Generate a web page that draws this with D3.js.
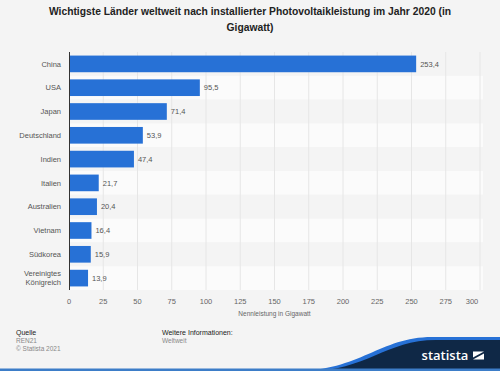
<!DOCTYPE html>
<html><head><meta charset="utf-8">
<script src="https://cdn.jsdelivr.net/npm/d3@7"></script>
<style>body{margin:0;background:#f4f4f4}svg{display:block;font-family:"Liberation Sans",Arial,sans-serif}</style>
</head><body>
<svg id="c" width="500" height="371"></svg>
<script>
const categories = ["China","USA","Japan","Deutschland","Indien","Italien","Australien","Vietnam","Südkorea","Vereinigtes Königreich"];
const values = [253.4,95.5,71.4,53.9,47.4,21.7,20.4,16.4,15.9,13.9];
const valueLabels = ["253,4","95,5","71,4","53,9","47,4","21,7","20,4","16,4","15,9","13,9"];
const xTicks = [0,25,50,75,100,125,150,175,200,225,250,275,300];
const titleLines = ["Wichtigste Länder weltweit nach installierter Photovoltaikleistung im Jahr 2020 (in","Gigawatt)"];
const axisTitle = "Nennleistung in Gigawatt";

const svg = d3.select("#c");
svg.append("rect").attr("width",500).attr("height",371).attr("fill","#f4f4f4");

svg.selectAll("text.title").data(titleLines).join("text")
  .attr("x",250).attr("y",(d,i)=>15+i*16).attr("text-anchor","middle")
  .attr("font-size","10.3px").attr("font-weight","bold").attr("fill","#222").text(d=>d);

const x = d3.scaleLinear().domain([0,300]).range([69,480]);
const y = d3.scaleBand().domain(categories).range([52,290]).paddingInner(0.3).paddingOuter(0.15);
const rowY = d3.scaleBand().domain(categories).range([52,290]);

svg.selectAll("rect.row").data(categories).join("rect")
  .attr("x",69).attr("y",d=>rowY(d)).attr("width",414).attr("height",rowY.bandwidth())
  .attr("fill",(d,i)=>i%2?"#fbfbfb":"#f4f4f4");

svg.selectAll("line.grid").data(xTicks.slice(1)).join("line")
  .attr("x1",d=>x(d)).attr("x2",d=>x(d)).attr("y1",52).attr("y2",290)
  .attr("stroke","#e6e6e6").attr("stroke-width",1);

svg.selectAll("rect.bar").data(values).join("rect")
  .attr("x",x(0)).attr("y",(d,i)=>y(categories[i]))
  .attr("width",d=>x(d)-x(0)).attr("height",y.bandwidth()).attr("fill","#2771d6");

svg.selectAll("text.val").data(values).join("text")
  .attr("x",d=>x(d)+4).attr("y",(d,i)=>y(categories[i])+y.bandwidth()/2).attr("dy","0.35em")
  .attr("font-size","7.5px").attr("fill","#555").text((d,i)=>valueLabels[i]);

categories.forEach((c,i)=>{
  const cy = rowY(c)+rowY.bandwidth()/2;
  const words = c==="Vereinigtes Königreich" ? ["Vereinigtes","Königreich"] : [c];
  words.forEach((w,j)=>{
    svg.append("text").attr("x",61).attr("y",cy+(j-(words.length-1)/2)*9).attr("dy","0.35em")
      .attr("text-anchor","end").attr("font-size","7.5px").attr("fill","#555").text(w);
  });
});

svg.append("line").attr("x1",69.5).attr("x2",69.5).attr("y1",52).attr("y2",290).attr("stroke","#333").attr("stroke-width",1);

svg.selectAll("text.tick").data(xTicks).join("text")
  .attr("x",d=>d===300?x(d)-8:x(d)).attr("y",304).attr("text-anchor","middle")
  .attr("font-size","7.5px").attr("fill","#666").text(d=>d);

svg.append("text").attr("x",x(150)).attr("y",316).attr("text-anchor","middle")
  .attr("font-size","6.5px").attr("fill","#666").text(axisTitle);

svg.append("text").attr("x",16).attr("y",335).attr("font-size","7px").attr("fill","#222").text("Quelle");
svg.append("text").attr("x",16).attr("y",343).attr("font-size","6.5px").attr("fill","#888").text("REN21");
svg.append("text").attr("x",16).attr("y",351).attr("font-size","6.5px").attr("fill","#888").text("© Statista 2021");
svg.append("text").attr("x",162).attr("y",335).attr("font-size","7px").attr("fill","#222").text("Weitere Informationen:");
svg.append("text").attr("x",162).attr("y",343).attr("font-size","6.5px").attr("fill","#888").text("Weltweit");

svg.append("path").attr("d","M295,371 C360,371 380,337 432,337 L500,337 L500,371 Z").attr("fill","#2771d6");
svg.append("path").attr("d","M308,371 C366,371 386,340 436,340 L500,340 L500,371 Z").attr("fill","#0f2846");
svg.append("rect").attr("x",0).attr("y",368.5).attr("width",500).attr("height",2.5).attr("fill","#3d7dc8");
svg.append("text").attr("x",445).attr("y",360).attr("text-anchor","middle").attr("font-size","13px")
  .attr("font-family","'Open Sans',sans-serif").attr("fill","#fff").attr("font-weight","600").text("statista");
svg.append("path").attr("d","M473,351.5 L484,351.5 L473,357.5 Z").attr("fill","#fff");
svg.append("path").attr("d","M484,353.5 L484,359.5 L473,359.5 Z").attr("fill","#fff");
</script>
</body></html>
